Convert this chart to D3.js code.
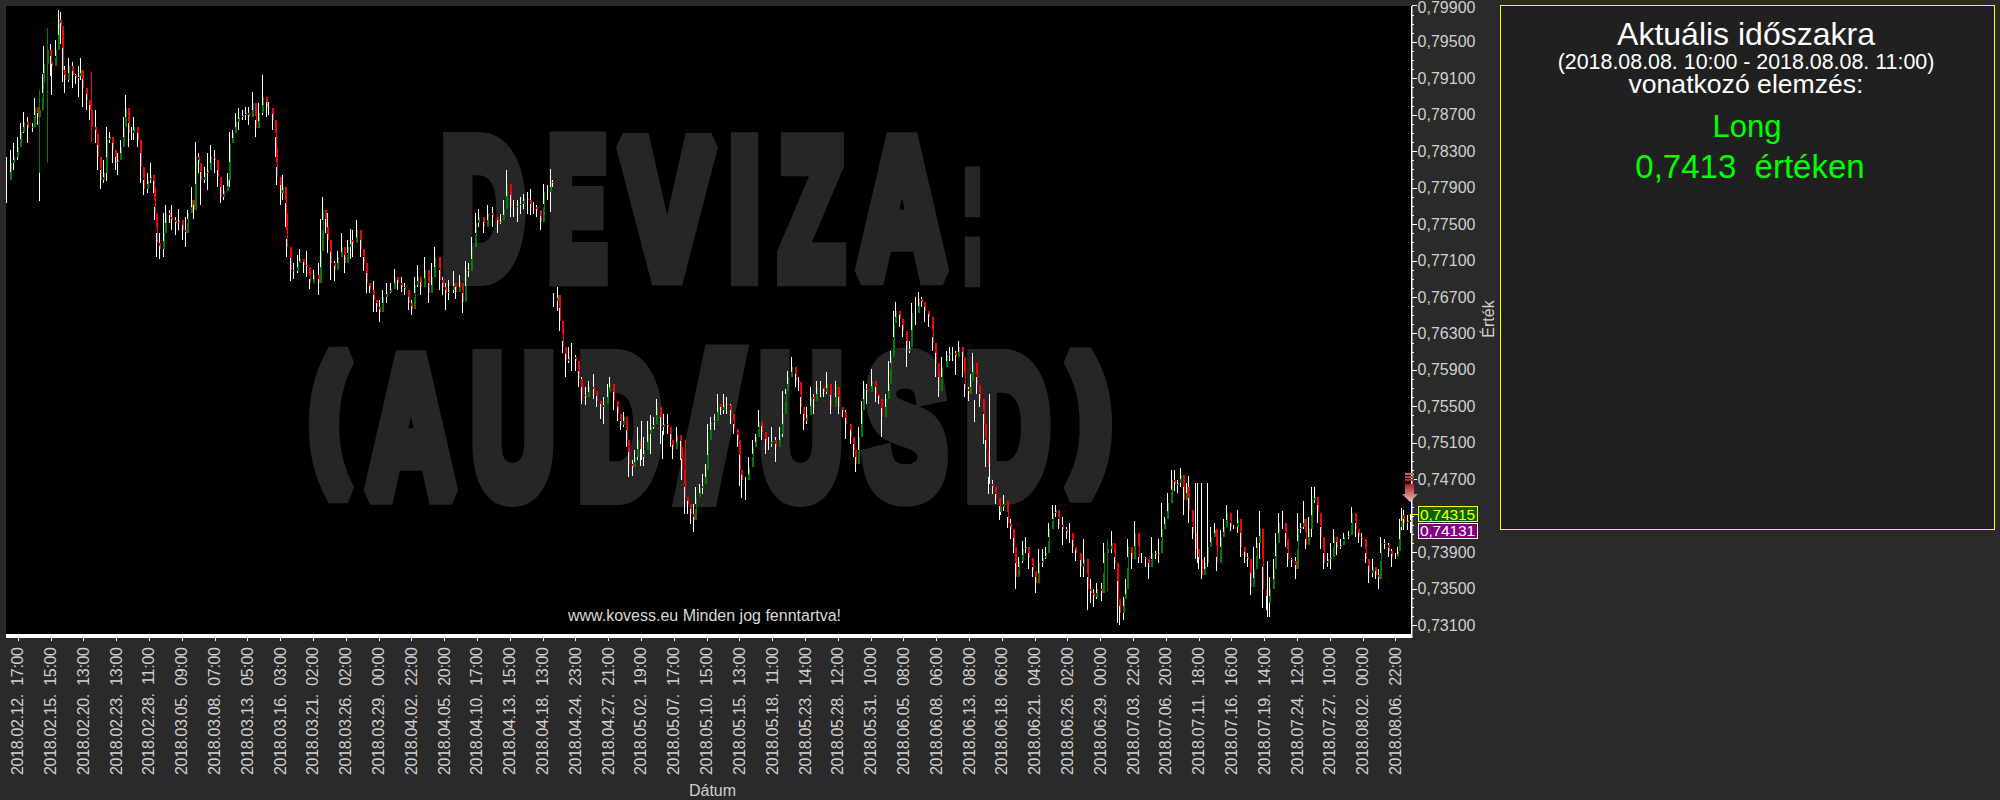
<!DOCTYPE html>
<html><head><meta charset="utf-8">
<script src="https://cdn.jsdelivr.net/npm/d3@7"></script>
<style>html,body{margin:0;padding:0;background:#2a2a2a}svg{display:block}text{font-family:"Liberation Sans",Arial,sans-serif;white-space:pre}</style>
</head><body><svg id="c" width="2000" height="800"></svg>
<script>
// bar number (hourly bars since the start of the window)
const barNo=[0,8,15,23,30,37,44,55,60,67,71,76,79,88,94,97,104,111,115,119,124,133,140,147,154,158,163,170,178,182,190,195,200,207,213,219,226,232,237,244,249,254,260,266,272,279,286,293,300,307,313,316,320,327,334,340,347,353,360,367,375,381,387,394,399,404,409,415,422,429,436,443,451,456,463,471,476,483,489,496,503,510,517,525,531,538,547,554,560,567,573,576,584,590,595,597,606,613,620,626,633,640,647,656,665,670,675,681,685,692,700,707,715,721,728,734,739,746,755,762,769,775,783,790,796,803,810,819,827,835,843,850,857,864,871,876,884,893,900,907,914,923,930,937,944,953,958,967,974,980,986,993,1000,1008,1017,1027,1037,1047,
1054,1061,1068,1075,1082,1090,1097,1104,1111,1118,1125,1132,1139,1146,1154,1161,1166,1168,1175,1181,1186,1193,1200,1205,1214,1221,1228,1235,1242,1252,1259,1267,1274,1282,1287,1296,1303,1310,1316,1323,1328,1335,1341,1346,1353,1360,1367,1374,1381,1388,1395,1402,1410,1417,1422,1429,1438,1441,1446,1454,1459,1465,1471,1478,1485,1491,1495,1503,1510,1518,1523,1530,1537,1545,1552,1559,1564,1569,1577,1584,1591,1598,1604,1612,1619,1626,1633,1641,1650,1655,1662,1667,1676,1683,1690,1694,1701,1708,1715,1722,1729,1737,1744,1749,1758,1769,1776,1783,1791,1801,1808,1812,1818,1824,1829,1836,1845,1854,1861,1868,1875,1882,1886,1892,1897,1905,1913,1920,1927,1932,1939,1946,1953,1958,1968,1975,1982,1989,1996,2005,2012,2019,2026,2032,2040,2044,2052,2058,2062,2069,2077,2085,2089,2096,2103,2110,2118,
2121,2128,2135,2142,2148,2153,2160,2167,2174,2181,2189,2196,2203,2210,2217,2224,2231,2238,2245,2253,2261,2268,2275,2282,2292,2299,2306,2313,2320,2327,2336,2341,2349,2357,2364,2371,2376,2383,2388,2393,2400,2408,2415,2422,2430,2437,2444,2452,2459,2464,2471,2478,2485,2492,2499,2505,2511,2518,2523,2530,2537,2544,2550,2556,2562,2569,2577,2583,2590,2597,2604,2612,2619,2627,2634,2641,2649,2654,2661,2668,2674,2681,2688,2696,2703,2708,2715,2722,2729,2734,2741,2750,2755,2762,2768,2772,2779,2785,2791,2798,2804,2811,2818,2825,2832,2839,2846,2853,2863,2870,2878,2885,2892,2900,2907,2914,2921,2927,2933,2940,2949,2956,2964,2969,2973,2976,2981,2989,2996];
// closes, highs, lows in 1/10000 price units
const closes=[7798,7817,7824,7835,7851,7862,7855,7857,7879,7868,7875,7905,7926,7941,7928,7923,7941,7974,7967,7919,7908,7923,7914,7910,7912,7919,7899,7886,7875,7857,7850,7824,7798,7806,7842,7846,7831,7817,7820,7835,7857,7877,7850,7850,7857,7842,7813,7789,7798,7804,7791,7762,7729,7723,7740,7762,7758,7754,7751,7754,7743,7740,7762,7776,7765,7824,7817,7798,7806,7809,7824,7820,7802,7780,7786,7798,7839,7850,7862,7868,7870,7872,7868,7883,7855,7872,7890,7879,7877,7864,7835,7802,7784,7791,7762,7725,7700,7698,7707,7712,7705,7703,7685,7694,7685,7721,7765,7747,7732,7707,7700,7714,7725,7707,7725,7732,7729,7743,7723,7707,7685,7678,7667,7659,7654,7670,7676,7679,7692,7685,7681,7678,7663,7657,7683,7692,7681,7700,7674,7692,7714,7689,7681,7674,7678,7685,7676,7685,7665,7700,7698,7725,7751,7758,7747,7762,7758,7751,
7754,7767,7794,7769,7769,7771,7772,7778,7776,7769,7769,7765,7752,7785,7785,7796,7794,7666,7672,7644,7615,7600,7604,7604,7600,7580,7562,7560,7571,7567,7556,7549,7553,7567,7575,7556,7542,7529,7538,7513,7487,7483,7494,7513,7494,7502,7520,7527,7531,7549,7527,7531,7527,7513,7503,7518,7505,7480,7450,7443,7432,7425,7450,7460,7465,7480,7513,7533,7534,7553,7546,7553,7551,7542,7525,7513,7480,7469,7469,7483,7505,7516,7534,7522,7509,7509,7513,7505,7520,7542,7567,7582,7593,7578,7577,7549,7534,7540,7560,7556,7571,7571,7566,7575,7549,7571,7549,7544,7531,7516,7502,7487,7516,7546,7569,7566,7578,7564,7558,7538,7558,7575,7604,7641,7655,7646,7633,7611,7615,7652,7652,7668,7664,7655,7648,7619,7597,7567,7593,7606,7608,7608,7604,7615,7604,7569,7564,7578,7597,7573,7558,7531,7502,7465,7461,7449,7434,
7440,7446,7422,7415,7396,7363,7380,7393,7396,7383,7369,7356,7378,7383,7389,7415,7433,7436,7420,7415,7411,7411,7396,7389,7374,7382,7349,7345,7341,7349,7345,7389,7393,7400,7378,7338,7323,7338,7349,7396,7382,7411,7383,7383,7382,7374,7389,7387,7389,7415,7426,7444,7469,7464,7466,7475,7447,7462,7436,7411,7393,7382,7365,7378,7396,7407,7415,7378,7407,7418,7433,7418,7418,7426,7396,7385,7382,7352,7371,7400,7415,7349,7334,7349,7371,7400,7422,7422,7404,7382,7380,7371,7415,7418,7426,7398,7415,7447,7451,7433,7407,7378,7382,7385,7407,7396,7398,7407,7409,7433,7415,7407,7404,7382,7367,7374,7365,7361,7400,7398,7391,7385,7385,7391,7418,7431,7422,7425,7422];
const highs=[7824,7831,7839,7846,7861,7873,7868,7861,7888,7872,7897,7915,7945,7965,7948,7934,7952,7985,7983,7948,7923,7932,7928,7915,7923,7932,7912,7897,7883,7917,7875,7839,7809,7820,7857,7851,7844,7828,7828,7842,7868,7892,7861,7857,7868,7853,7831,7798,7806,7817,7802,7769,7740,7740,7762,7771,7765,7771,7758,7767,7753,7758,7765,7791,7776,7840,7828,7809,7813,7828,7837,7831,7809,7791,7793,7806,7851,7853,7872,7877,7875,7879,7879,7895,7864,7883,7914,7884,7884,7875,7846,7813,7795,7804,7773,7734,7718,7707,7716,7723,7711,7720,7690,7700,7707,7756,7780,7758,7762,7721,7709,7721,7740,7721,7732,7745,7743,7754,7734,7714,7700,7685,7687,7667,7667,7678,7685,7685,7701,7692,7692,7685,7674,7667,7692,7705,7687,7714,7685,7707,7725,7700,7692,7685,7689,7698,7685,7694,7674,7709,7707,7736,7762,7767,7754,7771,7769,7758,
7761,7776,7809,7783,7776,7776,7780,7783,7785,7789,7774,7771,7765,7794,7793,7811,7798,7674,7681,7670,7622,7608,7615,7619,7606,7589,7582,7571,7578,7586,7567,7556,7560,7575,7582,7567,7549,7534,7544,7524,7502,7491,7502,7527,7509,7516,7534,7540,7538,7558,7542,7542,7542,7520,7513,7527,7516,7513,7461,7450,7443,7443,7461,7465,7476,7487,7531,7538,7542,7564,7553,7564,7560,7553,7531,7520,7502,7476,7472,7494,7513,7520,7546,7531,7514,7516,7527,7516,7527,7567,7569,7589,7604,7589,7582,7560,7546,7549,7571,7564,7578,7578,7571,7588,7564,7578,7560,7547,7546,7524,7509,7502,7527,7556,7578,7575,7591,7571,7562,7549,7564,7600,7611,7655,7664,7653,7644,7622,7622,7663,7670,7675,7670,7663,7655,7626,7611,7582,7604,7611,7615,7615,7611,7622,7615,7575,7571,7586,7608,7582,7564,7542,7513,7472,7469,7454,7441,
7447,7453,7429,7426,7407,7378,7385,7402,7407,7393,7374,7363,7393,7393,7396,7422,7442,7442,7426,7429,7418,7422,7404,7394,7389,7404,7363,7360,7349,7356,7356,7400,7404,7413,7385,7363,7334,7341,7360,7404,7389,7424,7385,7389,7385,7380,7407,7391,7404,7444,7429,7455,7480,7480,7469,7482,7462,7466,7473,7418,7418,7385,7371,7385,7404,7418,7422,7385,7414,7426,7442,7422,7420,7436,7411,7393,7389,7374,7396,7407,7435,7374,7349,7363,7382,7411,7433,7435,7411,7389,7383,7385,7433,7422,7446,7404,7429,7462,7462,7444,7418,7389,7389,7400,7415,7404,7404,7411,7413,7440,7422,7415,7411,7389,7378,7382,7371,7371,7407,7404,7400,7393,7389,7396,7426,7438,7436,7431,7431];
const lows=[7773,7806,7809,7820,7839,7850,7839,7851,7870,7859,7855,7894,7912,7925,7912,7892,7934,7956,7948,7906,7894,7906,7899,7904,7890,7908,7879,7875,7864,7840,7839,7809,7789,7795,7797,7839,7817,7809,7804,7828,7839,7868,7835,7842,7842,7835,7795,7782,7784,7795,7784,7754,7714,7712,7714,7747,7751,7743,7738,7743,7732,7725,7756,7769,7756,7765,7806,7771,7795,7787,7813,7806,7791,7773,7776,7789,7791,7842,7853,7853,7864,7864,7859,7872,7846,7861,7870,7868,7870,7853,7824,7793,7771,7776,7747,7714,7687,7690,7696,7707,7696,7692,7679,7689,7672,7703,7754,7740,7718,7689,7687,7707,7714,7696,7718,7712,7714,7732,7714,7698,7674,7674,7654,7654,7643,7663,7663,7674,7681,7678,7676,7672,7656,7650,7674,7681,7672,7685,7663,7681,7703,7678,7672,7656,7667,7674,7668,7678,7652,7670,7692,7711,7740,7747,7740,7754,7747,7740,
7750,7758,7776,7758,7758,7752,7761,7767,7761,7760,7761,7758,7743,7772,7776,7763,7791,7659,7655,7633,7608,7582,7597,7589,7589,7571,7553,7551,7564,7558,7549,7536,7531,7556,7567,7546,7534,7524,7527,7505,7472,7474,7483,7491,7485,7485,7509,7498,7525,7531,7509,7518,7520,7505,7492,7509,7491,7469,7432,7432,7421,7412,7443,7454,7454,7469,7494,7524,7524,7542,7540,7542,7542,7531,7520,7505,7463,7449,7447,7472,7498,7509,7527,7513,7498,7502,7505,7489,7509,7516,7564,7575,7582,7571,7567,7542,7524,7531,7549,7542,7564,7560,7560,7564,7542,7560,7542,7538,7514,7509,7494,7478,7502,7527,7556,7553,7567,7555,7553,7516,7549,7560,7597,7626,7641,7637,7626,7593,7608,7622,7639,7652,7659,7643,7637,7611,7582,7560,7582,7597,7600,7600,7584,7608,7582,7560,7556,7567,7582,7564,7549,7509,7483,7454,7454,7443,7425,
7431,7435,7416,7404,7389,7349,7374,7378,7389,7371,7363,7345,7363,7374,7382,7407,7426,7429,7415,7398,7404,7400,7389,7380,7363,7363,7327,7334,7330,7338,7336,7378,7374,7389,7371,7312,7310,7316,7338,7385,7371,7396,7378,7378,7374,7361,7382,7382,7378,7407,7418,7433,7458,7457,7455,7462,7431,7451,7422,7404,7382,7371,7360,7371,7374,7400,7407,7369,7396,7411,7418,7413,7415,7411,7385,7378,7374,7343,7352,7394,7382,7329,7327,7319,7356,7382,7407,7415,7396,7374,7374,7360,7402,7411,7415,7393,7407,7407,7444,7422,7393,7372,7374,7371,7400,7387,7393,7404,7404,7422,7407,7400,7396,7378,7356,7363,7360,7349,7389,7393,7385,7374,7382,7385,7393,7414,7414,7414,7411];
// bars where the quote feed jumped: no body is drawn from the previous close
const feedGaps=[1168];
// long single-bar wicks
const spikeBar=[71,71,88,182,1356,1399,1449,2066,2098,2350,2537,2542,2550,2562,2690];
const spikeTop=[7897,7806,7965,7917,7534,7523,7513,7557,7564,7404,7466,7466,7466,7466,7380];
const spikeBottom=[7806,7775,7817,7840,7491,7492,7465,7533,7465,7347,7389,7378,7363,7378,7319];
const spikeKind=["up","wick","up","down","wick","wick","down","wick","wick","up","wick","wick","wick","wick","wick"];
// axes
const priceTicks=[7990,7950,7910,7870,7830,7790,7750,7710,7670,7630,7590,7550,7510,7470,7390,7350,7310];
const priceMinor=d3.range(7310,7991,10);
const dateLabels=["2018.02.12.  17:00","2018.02.15.  15:00","2018.02.20.  13:00","2018.02.23.  13:00","2018.02.28.  11:00","2018.03.05.  09:00","2018.03.08.  07:00","2018.03.13.  05:00","2018.03.16.  03:00","2018.03.21.  02:00","2018.03.26.  02:00","2018.03.29.  00:00","2018.04.02.  22:00","2018.04.05.  20:00","2018.04.10.  17:00","2018.04.13.  15:00","2018.04.18.  13:00","2018.04.24.  23:00","2018.04.27.  21:00","2018.05.02.  19:00","2018.05.07.  17:00","2018.05.10.  15:00","2018.05.15.  13:00","2018.05.18.  11:00","2018.05.23.  14:00","2018.05.28.  12:00","2018.05.31.  10:00","2018.06.05.  08:00","2018.06.08.  06:00","2018.06.13.  08:00","2018.06.18.  06:00","2018.06.21.  04:00","2018.06.26.  02:00","2018.06.29.  00:00","2018.07.03.  22:00","2018.07.06.  20:00","2018.07.11.  18:00","2018.07.16.  16:00","2018.07.19.  14:00","2018.07.24.  12:00","2018.07.27.  10:00","2018.08.02.  00:00","2018.08.06.  22:00"];
const dateTickBars=dateLabels.map((d,i)=>25+70*i);
const markerLevels=[{v:7431.5,t:"0,74315"},{v:7413.1,t:"0,74131"}];
const panelLines=["Aktuális időszakra","(2018.08.08. 10:00 - 2018.08.08. 11:00)","vonatkozó elemzés:","Long","0,7413  értéken"];
const watermarkTop="DEVIZA:";
const watermarkBottom="(AUD/USD)";

const svg=d3.select("#c");
const BG="#2a2a2a";
svg.append("rect").attr("width",2000).attr("height",800).attr("fill",BG);
const L=6,R=1411,T=6,B=634;
svg.append("rect").attr("x",L).attr("y",T).attr("width",R-L).attr("height",B-T).attr("fill","#000");
const x=d3.scaleLinear().domain([0,2996]).range([6,1410]);
const y=d3.scaleLinear().domain([7310,7990]).range([625,5.4]);

// watermark: each heavy condensed glyph is stretched to its own slot
function wm(str,slots,base,size){
  const SW=18;
  str.split("").forEach((ch,i)=>{
    const [a,b]=slots[i], paren=ch==="("||ch===")";
    const t=svg.append("text").text(ch)
      .style("font-family",'"Liberation Sans Narrow","Liberation Sans",sans-serif').style("font-weight",700)
      .attr("font-size",paren?size*.76:size).attr("fill","#262626").attr("stroke","#262626").attr("stroke-width",SW)
      .attr("stroke-linejoin","miter").attr("stroke-miterlimit",1.6)
      .attr("vector-effect","non-scaling-stroke").style("paint-order","stroke");
    const adv=t.node().getComputedTextLength();
    const sx=(b-a-SW+6)/adv;
    t.attr("transform",`translate(${a+SW/2-3},${base-SW/2-(paren?size*.16:0)}) scale(${sx},1)`);
  });
}
wm(watermarkTop,[[436,530],[543,612],[616,718],[724,765],[774,849],[852,952],[957,988]],284,191);
wm(watermarkBottom,[[305,354],[361,461],[466,560],[573,667],[675,746],[754,848],[859,952],[960,1055],[1064,1116]],503,194);
svg.append("text").text("www.kovess.eu Minden jog fenntartva!").attr("x",568).attr("y",620.5).attr("textLength",273)
  .attr("font-size",16).attr("fill","#d8d8d8");

// bars
const bars=barNo.map((b,i)=>({b,c:closes[i],h:highs[i],l:lows[i],o:(i===0||feedGaps.includes(b))?closes[i]:closes[i-1]}));
const g=svg.append("g").attr("shape-rendering","crispEdges");
const col=d=>Math.round(x(d.b));
const tone=d=>d.c>=d.o?"#008000":"#ff0000";
g.selectAll("line.w").data(bars).join("line").attr("class","w")
  .attr("x1",d=>col(d)+.5).attr("x2",d=>col(d)+.5)
  .attr("y1",d=>y(d.h)).attr("y2",d=>y(d.l)).attr("stroke","#fff");
g.selectAll("line.b").data(bars).join("line").attr("class","b")
  .attr("x1",d=>col(d)+1.5).attr("x2",d=>col(d)+1.5)
  .attr("y1",d=>y(d.o)).attr("y2",d=>y(d.c)).attr("stroke",tone);
g.selectAll("line.h").data(bars).join("line").attr("class","h")
  .attr("x1",d=>col(d)+.5).attr("x2",d=>col(d)+.5)
  .attr("y1",d=>y(d.o)).attr("y2",d=>y((d.o+d.c)/2)).attr("stroke",tone);
const spikes=spikeBar.map((b,i)=>({b,t:spikeTop[i],u:spikeBottom[i],k:spikeKind[i]}));
g.selectAll("line.s").data(spikes).join("line").attr("class","s")
  .attr("x1",d=>col(d)+.5).attr("x2",d=>col(d)+.5)
  .attr("y1",d=>y(d.t)).attr("y2",d=>y(d.u))
  .attr("stroke",d=>d.k==="up"?"#008000":d.k==="down"?"#ff0000":"#fff");

// frame lines
svg.append("rect").attr("x",L).attr("y",B).attr("width",R+1-L).attr("height",4).attr("fill","#fff");
svg.append("rect").attr("x",R).attr("y",T).attr("width",1.5).attr("height",B-T+4).attr("fill","#fff");

// y axis
const ax=svg.append("g").attr("transform",`translate(${R+.5},0)`).attr("shape-rendering","crispEdges");
ax.call(d3.axisRight(y).tickValues(priceMinor).tickSize(2).tickFormat(""));
const ay=svg.append("g").attr("transform",`translate(${R+.5},0)`).attr("shape-rendering","crispEdges");
ay.call(d3.axisRight(y).tickValues(priceTicks).tickSize(5).tickPadding(1)
  .tickFormat(d=>"0,"+String(d)+"0"));
[ax,ay].forEach(a=>{a.select(".domain").remove();a.selectAll("line").attr("stroke","#fff");});
ay.selectAll("text").attr("fill","#d0d0d0").attr("font-size",16).attr("font-family",null).attr("x",6).attr("textLength",58);
ay.selectAll("text").filter(d=>d===7990).attr("dy","0.42em");
svg.append("text").text("Érték").attr("transform","translate(1493.5,319) rotate(-90)").attr("text-anchor","middle").attr("font-size",16).attr("fill","#d0d0d0");

// x axis
const axb=svg.append("g").attr("transform",`translate(0,${B+3.5})`).attr("shape-rendering","crispEdges");
axb.call(d3.axisBottom(x).tickValues(dateTickBars).tickSize(3).tickFormat((d,i)=>dateLabels[i]));
axb.select(".domain").remove();
axb.selectAll("line").attr("stroke","#fff");
axb.selectAll("text").attr("fill","#d0d0d0").attr("font-size",16).attr("font-family",null)
  .attr("text-anchor","start").attr("dy",null).attr("y",null)
  .attr("transform",`translate(5,${775-(B+3.5)}) rotate(-90)`).attr("textLength",128);
svg.append("text").text("Dátum").attr("x",712.5).attr("y",796).attr("text-anchor","middle").attr("font-size",16).attr("fill","#d0d0d0");

// signal arrow, anchored to the last bar
const defs=svg.append("defs");
const gr=defs.append("linearGradient").attr("id","ag").attr("x1",0).attr("x2",0).attr("y1",0).attr("y2",1);
gr.append("stop").attr("offset",0).attr("stop-color","#a82020");
gr.append("stop").attr("offset",1).attr("stop-color","#eec0b8");
const ax0=x(2996), tip=y(7445);
svg.append("path").attr("fill","url(#ag)").attr("d",d3.line()([[ax0-5,tip-18],[ax0+4,tip-18],[ax0+4,tip-8],[ax0+8,tip-8],[ax0,tip],[ax0-8,tip-8],[ax0-5,tip-8]])+"Z");
[29,26,23].forEach((o,i)=>svg.append("rect").attr("x",ax0-5).attr("y",tip-o).attr("width",9).attr("height",2).attr("fill",["#e0605a","#c84040","#b03030"][i]));

// price boxes
const bw=60;
svg.append("line").attr("x1",ax0).attr("x2",1418).attr("y1",y(markerLevels[0].v)).attr("y2",y(markerLevels[0].v)).attr("stroke","#ffff00").attr("shape-rendering","crispEdges");
const boxes=[{top:506,h:16,fill:"#006400",stroke:"#ffff00",text:"#ffff00"},{top:522.5,h:16.5,fill:"#800080",stroke:"#ffffff",text:"#ffffff"}];
boxes.forEach((b,i)=>{
  svg.append("rect").attr("x",1418.5).attr("y",b.top+.5).attr("width",bw-1).attr("height",b.h-1).attr("fill",b.fill).attr("stroke",b.stroke).attr("shape-rendering","crispEdges");
  svg.append("text").text(markerLevels[i].t).attr("x",1420).attr("y",b.top+13.5).attr("textLength",55).attr("font-size",15.5).attr("fill",b.text);
});

// analysis panel
svg.append("rect").attr("x",1500.5).attr("y",5.5).attr("width",494).attr("height",524).attr("fill","#202020").attr("stroke","#ffff00").attr("shape-rendering","crispEdges");
const pfmt=[{y:45,s:32,f:"#fff",x:1746},{y:69,s:21.4,f:"#fff",x:1746},{y:92.5,s:26.6,f:"#fff",x:1746},{y:137,s:31,f:"#00ff00",x:1747},{y:178,s:33,f:"#00ff00",x:1750}];
panelLines.forEach((t,i)=>svg.append("text").text(t).attr("x",pfmt[i].x).attr("y",pfmt[i].y).attr("text-anchor","middle").attr("font-size",pfmt[i].s).attr("fill",pfmt[i].f));
</script></body></html>
